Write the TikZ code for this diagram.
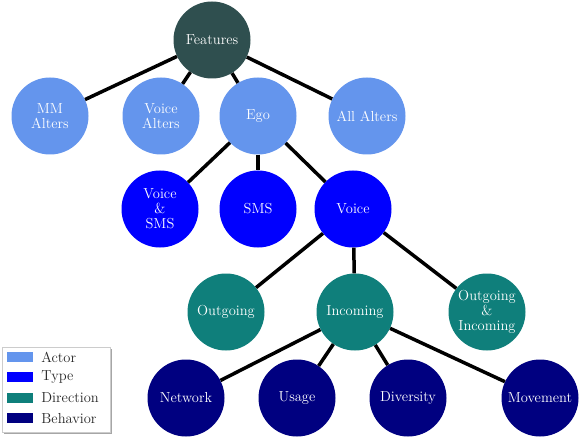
\documentclass[tikz,border=0pt]{standalone}
\usepackage{tikz}
\usetikzlibrary{positioning}
\definecolor{actorcol}{HTML}{6495ED}
\definecolor{typecol}{HTML}{0000FF}
\definecolor{dircol}{HTML}{0F7F7B}
\definecolor{behcol}{HTML}{000080}
\definecolor{featcol}{HTML}{2F4F4F}
\begin{document}
\begin{tikzpicture}[x=1pt,y=-1pt,
    every node/.style={font=\fontsize{14.5}{15}\selectfont},
    blob/.style={circle, minimum size=77pt, inner sep=0pt, text=white, align=center},
    feat/.style={blob, fill=featcol},
    actor/.style={blob, fill=actorcol},
    kind/.style={blob, fill=typecol},
    dir/.style={blob, fill=dircol},
    beh/.style={blob, fill=behcol},
    link/.style={line width=3.5pt, black},
    swatch/.style={minimum width=26pt, minimum height=10pt, inner sep=0pt}]
    \useasboundingbox (0,0) rectangle (580,438);
    % tree nodes
    \node[feat] (features) at (212,40) {Features};
    \node[actor] (mm) at (50,116) {MM\\Alters};
    \node[actor] (valters) at (161,116) {Voice\\Alters};
    \node[actor] (ego) at (258,116) {Ego};
    \node[actor] (all) at (367,116) {All Alters};
    \node[kind] (vsms) at (160,209) {Voice\\\&\\SMS};
    \node[kind] (sms) at (258,209) {SMS};
    \node[kind] (voice) at (353,209) {Voice};
    \node[dir] (out) at (226,312) {Outgoing};
    \node[dir] (in) at (355,312) {Incoming};
    \node[dir] (outin) at (487,312) {Outgoing\\\&\\Incoming};
    \node[beh] (net) at (186,398) {Network};
    \node[beh] (usage) at (297,398) {Usage};
    \node[beh] (div) at (408,398) {Diversity};
    \node[beh] (move) at (540,398) {Movement};
    % links between the circles
    \foreach \a/\b in {features/mm, features/valters, features/ego, features/all,
                       ego/vsms, ego/sms, ego/voice,
                       voice/out, voice/in, voice/outin,
                       in/net, in/usage, in/div, in/move}
        \draw[link] (\a) -- (\b);
    % legend
    \fill[black!35] (4,349) rectangle (112,434);
    \draw[black!20, fill=white] (2,347) rectangle (110,432);
    \node[swatch, fill=actorcol] (sa) at (20,357) {};
    \node[swatch, fill=typecol, below=10pt of sa] (st) {};
    \node[swatch, fill=dircol, below=10pt of st] (sd) {};
    \node[swatch, fill=behcol, below=10pt of sd] (sb) {};
    \node[right=8pt of sa, text=black!85, inner sep=0pt] (la) {Actor};
    \node[right=8pt of st, text=black!85, inner sep=0pt] (lt) {Type};
    \node[right=8pt of sd, text=black!85, inner sep=0pt] (ld) {Direction};
    \node[right=8pt of sb, text=black!85, inner sep=0pt] (lb) {Behavior};
\end{tikzpicture}
\end{document}
